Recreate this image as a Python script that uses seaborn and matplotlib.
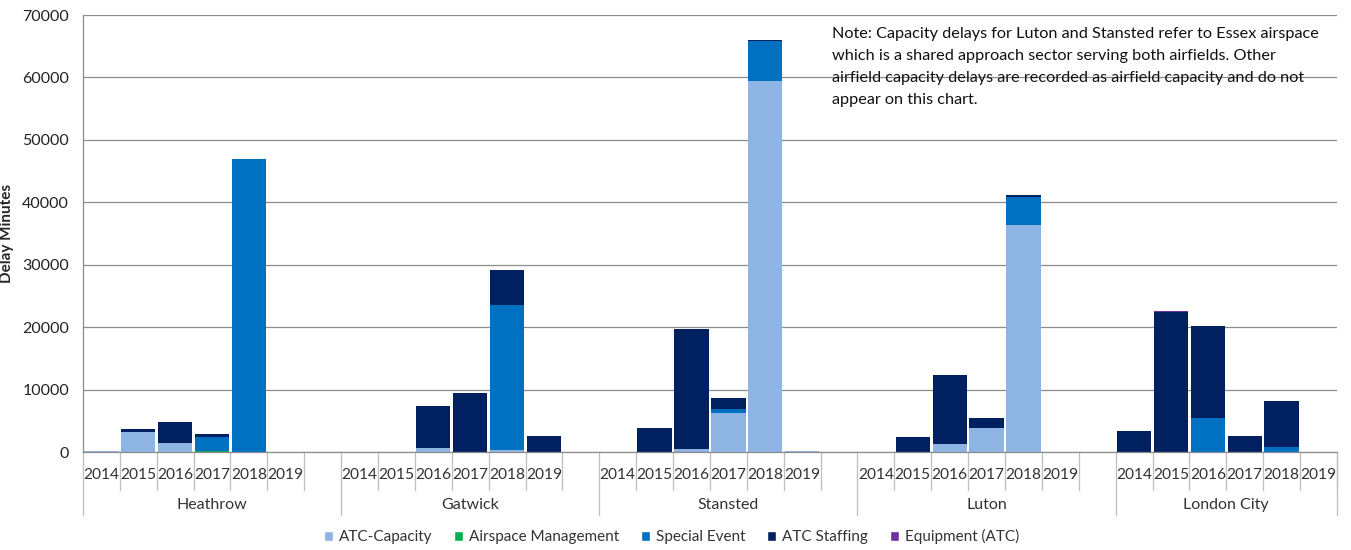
import pandas as pd
import seaborn as sns
import matplotlib.pyplot as plt
from matplotlib.patches import Patch

airports = ["Heathrow", "Gatwick", "Stansted", "Luton", "London City"]
years = ["2014", "2015", "2016", "2017", "2018", "2019"]
causes = ["ATC-Capacity", "Airspace Management", "Special Event", "ATC Staffing", "Equipment (ATC)"]
colors = ["#8EB4E3", "#00B050", "#0070C0", "#002060", "#7030A0"]

# delay minutes, one row per airport, one column per year (2014-2019)
atc_capacity = [
    [150, 3250, 1500, 0, 0, 0],
    [0, 0, 650, 0, 300, 0],
    [0, 0, 500, 6200, 59400, 150],
    [0, 0, 1350, 3850, 36400, 0],
    [0, 0, 0, 0, 0, 0],
]
airspace_mgmt = [
    [0, 0, 0, 250, 0, 0],
    [0, 0, 0, 0, 0, 0],
    [0, 0, 0, 0, 0, 0],
    [0, 0, 0, 0, 0, 0],
    [0, 0, 0, 0, 0, 0],
]
special_event = [
    [0, 0, 0, 2200, 47000, 0],
    [0, 0, 0, 0, 23300, 0],
    [0, 0, 0, 750, 6400, 0],
    [0, 0, 0, 0, 4500, 0],
    [0, 0, 5450, 0, 850, 0],
]
atc_staffing = [
    [0, 450, 3400, 450, 0, 0],
    [0, 0, 6750, 9450, 5600, 2600],
    [0, 3900, 19150, 1750, 200, 0],
    [0, 2350, 10950, 1600, 300, 0],
    [3400, 22500, 14750, 2600, 7300, 0],
]
equipment = [
    [0, 0, 0, 0, 0, 0],
    [0, 0, 0, 0, 0, 0],
    [0, 0, 0, 0, 0, 0],
    [0, 0, 0, 0, 0, 0],
    [0, 150, 0, 0, 0, 0],
]

series = [atc_capacity, airspace_mgmt, special_event, atc_staffing, equipment]

# one slot per year, plus an empty slot between airports
slots_per_group = len(years) + 1
rows = []
for cause, table in zip(causes, series):
    for i, ap in enumerate(airports):
        for j, yr in enumerate(years):
            rows.append({"slot": i * slots_per_group + j, "airport": ap, "year": yr,
                         "cause": cause, "minutes": table[i][j]})
df = pd.DataFrame(rows)
n_slots = len(airports) * slots_per_group - 1

sns.set_style("white")
plt.rcParams["font.family"] = ["Lato", "DejaVu Sans"]

fig = plt.figure(figsize=(13.51, 5.5), dpi=100)
ax = fig.add_axes([0.0614, 0.178, 0.9282, 0.7947])

# histplot stacks the last hue level at the bottom
sns.histplot(data=df, x="slot", weights="minutes", hue="cause", hue_order=causes[::-1],
             multiple="stack", discrete=True, shrink=0.93,
             palette=dict(zip(causes, colors)), alpha=1, linewidth=0,
             legend=False, ax=ax)

ax.set_xlim(-0.5, n_slots - 0.5)
ax.set_ylim(0, 70000)
ax.set_yticks(range(0, 70001, 10000))
ax.set_yticklabels([str(v) for v in range(0, 70001, 10000)], fontsize=11.5, color="#222222")
ax.yaxis.grid(True, color="#8c8c8c", lw=0.9)
ax.set_axisbelow(True)
ax.tick_params(axis="y", length=5, color="#8c8c8c", direction="out", pad=5)
ax.set_ylabel("Delay Minutes", fontsize=11, fontweight="bold", labelpad=6)
ax.set_xlabel("")
ax.set_xticks([])
for side in ["top", "right"]:
    ax.spines[side].set_visible(False)
for side in ["left", "bottom"]:
    ax.spines[side].set_color("#8c8c8c")
    ax.spines[side].set_linewidth(0.9)

# two-level category axis
trans = ax.get_xaxis_transform()
line_kw = dict(color="#bfbfbf", lw=0.9, transform=trans, clip_on=False)
for i, ap in enumerate(airports):
    start = i * slots_per_group
    ax.plot([start - 0.5, start - 0.5], [0, -0.144], **line_kw)
    for j, yr in enumerate(years):
        x = start + j
        ax.text(x, -0.053, yr, ha="center", va="center", fontsize=11.2,
                color="#333333", transform=trans)
        ax.plot([x + 0.5, x + 0.5], [0, -0.087], **line_kw)
    mid = start + (len(years) - 1) / 2
    ax.text(mid + 0.5 if i < len(airports) - 1 else mid, -0.121, ap, ha="center",
            va="center", fontsize=11.5, color="#333333", transform=trans)
ax.plot([n_slots - 0.5, n_slots - 0.5], [0, -0.144], **line_kw)

ax.text(0.597, 0.973, "Note: Capacity delays for Luton and Stansted refer to Essex airspace\n"
        "which is a shared approach sector serving both airfields. Other\n"
        "airfield capacity delays are recorded as airfield capacity and do not\n"
        "appear on this chart.", transform=ax.transAxes, ha="left", va="top",
        fontsize=11.7, color="#111111", linespacing=1.72)

handles = [Patch(facecolor=c, label=l) for l, c in zip(causes, colors)]
fig.legend(handles=handles, loc="center", bbox_to_anchor=(0.497, 0.024), ncol=5,
           frameon=False, fontsize=11, handlelength=0.6, handleheight=0.6,
           handletextpad=0.4, columnspacing=1.4, labelcolor="#333333")

fig.savefig("out.png", dpi=100)
